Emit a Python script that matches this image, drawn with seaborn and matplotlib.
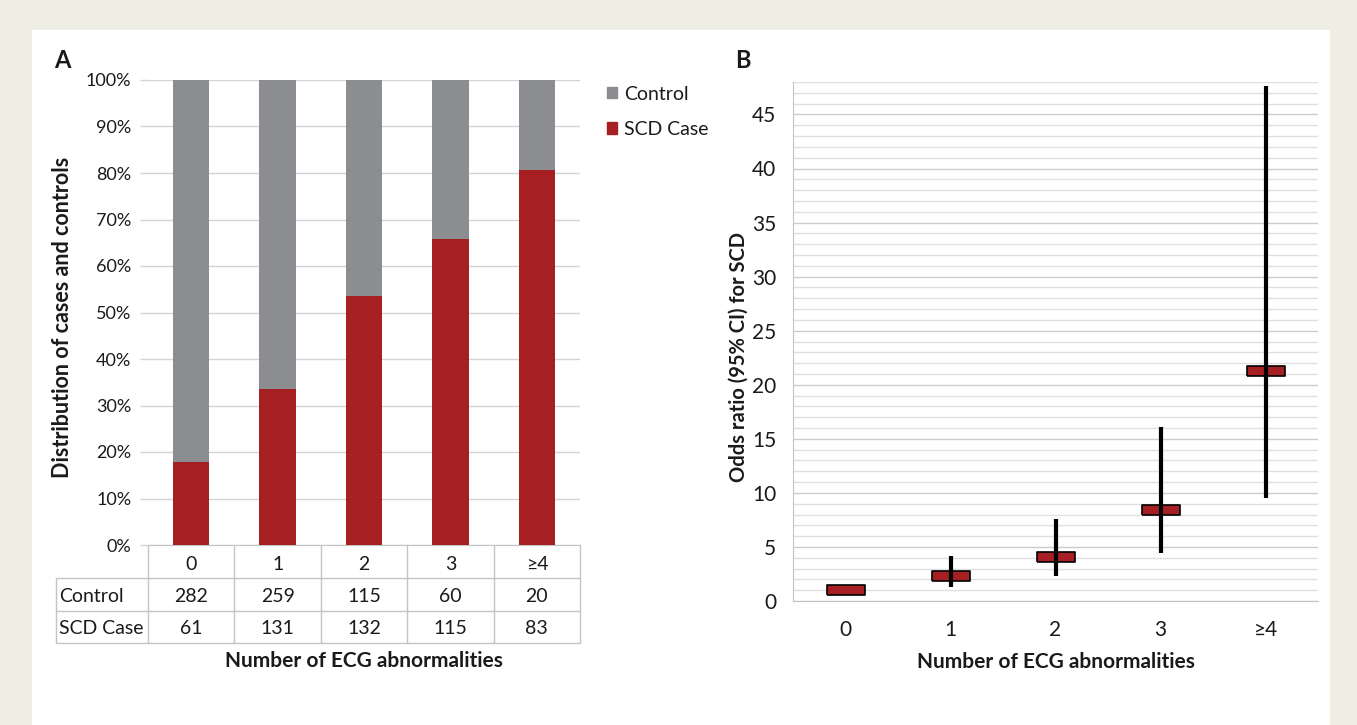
import matplotlib
matplotlib.use("Agg")
import matplotlib.pyplot as plt
import matplotlib.patches as mpatches
import matplotlib.transforms as mtransforms
import seaborn as sns
import pandas as pd
import numpy as np

# data
categories = ["0", "1", "2", "3", "\u22654"]
control_n = [282, 259, 115, 60, 20]
scd_n = [61, 131, 132, 115, 83]

odds_ratio = [1.0, 2.3, 4.1, 8.4, 21.3]
ci_low = [1.0, 1.3, 2.3, 4.4, 9.5]
ci_high = [1.0, 4.2, 7.6, 16.1, 47.6]

GRAY = "#8b8d91"
RED = "#a51f23"
BG = "#efeee5"
GRID = "#d4d4d4"
LINE = "#c4c4c4"

sns.set_style("white")
plt.rcParams["font.family"] = ["Lato", "DejaVu Sans"]
plt.rcParams["text.color"] = "#1a1a1a"
plt.rcParams["xtick.color"] = "#1a1a1a"
plt.rcParams["ytick.color"] = "#1a1a1a"

W, H = 1357, 725
fig = plt.figure(figsize=(W / 100, H / 100), dpi=100)
fig.patch.set_facecolor(BG)
# white panel
fig.add_artist(mpatches.Rectangle((32 / W, 0), (1330 - 32) / W, 1 - 30 / H,
                                  transform=fig.transFigure, facecolor="white",
                                  edgecolor="none", zorder=0))

df = pd.DataFrame({"cat": categories, "control": control_n, "scd": scd_n})
df["total"] = df["control"] + df["scd"]
df["scd_pct"] = df["scd"] / df["total"] * 100
df["all_pct"] = 100.0

# ---------------- panel A ----------------
axA = fig.add_axes([148 / W, 1 - 545 / H, 432 / W, 465 / H])
axA.set_facecolor("none")
sns.barplot(data=df, x="cat", y="all_pct", color=GRAY, width=0.42, ax=axA,
            saturation=1, linewidth=0, zorder=3)
sns.barplot(data=df, x="cat", y="scd_pct", color=RED, width=0.42, ax=axA,
            saturation=1, linewidth=0, zorder=3)
axA.set_ylim(0, 100)
axA.set_xlim(-0.5, len(categories) - 0.5)
axA.set_yticks(np.arange(0, 101, 10))
axA.set_yticklabels([f"{v}%" for v in range(0, 101, 10)], fontsize=13)
axA.yaxis.grid(True, color=GRID, lw=1, zorder=0)
axA.set_axisbelow(True)
axA.tick_params(axis="y", length=6, color=GRID, width=1, pad=6, left=True)
axA.set_xticks([])
axA.set_xlabel("")
axA.set_ylabel("")
for s in ["top", "right", "left"]:
    axA.spines[s].set_visible(False)
axA.spines["bottom"].set_color(LINE)
fig.text(63 / W, 1 - 317 / H, "Distribution of cases and controls", rotation=90,
         fontsize=15.5, fontweight="bold", ha="center", va="center")

# table under panel A
trans = mtransforms.blended_transform_factory(axA.transData, axA.transAxes)
x_left = (56 - 148) / 432
y_rows = [-33 / 465, -66 / 465, -98 / 465]
kw = dict(color=LINE, lw=1, clip_on=False)
for y in y_rows:
    axA.plot([x_left, 1], [y, y], transform=axA.transAxes, **kw)
axA.plot([x_left, x_left], [y_rows[0], y_rows[2]], transform=axA.transAxes, **kw)
for i in range(len(categories) + 1):
    axA.plot([i - 0.5, i - 0.5], [0, y_rows[2]], transform=trans, **kw)
for i, c in enumerate(categories):
    axA.text(i, -19 / 465, c, transform=trans, ha="center", va="center", fontsize=14)
    axA.text(i, -51 / 465, str(control_n[i]), transform=trans, ha="center",
             va="center", fontsize=14)
    axA.text(i, -83 / 465, str(scd_n[i]), transform=trans, ha="center",
             va="center", fontsize=14)
axA.text((59 - 148) / 432, -51 / 465, "Control", transform=axA.transAxes,
         ha="left", va="center", fontsize=14)
axA.text((59 - 148) / 432, -83 / 465, "SCD Case", transform=axA.transAxes,
         ha="left", va="center", fontsize=14)
axA.text(0.5, -116 / 465, "Number of ECG abnormalities", transform=axA.transAxes,
         ha="center", va="center", fontsize=15, fontweight="bold")

handles = [mpatches.Patch(color=GRAY, label="Control"),
           mpatches.Patch(color=RED, label="SCD Case")]
fig.legend(handles=handles, loc="upper left", bbox_to_anchor=(589 / W, 1 - 68 / H),
           frameon=False, fontsize=14, handlelength=0.55, handleheight=0.55,
           handletextpad=0.35, labelspacing=0.95)

fig.text(54 / W, 1 - 60 / H, "A", fontsize=17, fontweight="bold",
         ha="left", va="center")

# ---------------- panel B ----------------
axB = fig.add_axes([793 / W, 1 - 601 / H, 525 / W, 519 / H])
axB.set_facecolor("none")
xpos = np.arange(len(categories))
axB.vlines(xpos, ci_low, ci_high, color="black", lw=3, zorder=4)
box = [(-2, -0.5), (2, -0.5), (2, 0.5), (-2, 0.5), (-2, -0.5)]
sns.scatterplot(x=xpos, y=odds_ratio, marker=box, s=27 ** 2, color=RED,
                edgecolor="black", linewidth=1.2, ax=axB, zorder=3)
axB.set_xlim(-0.5, len(categories) - 0.5)
axB.set_ylim(0, 48)
axB.set_xticks(xpos)
axB.set_xticklabels(categories, fontsize=15)
axB.set_yticks(np.arange(0, 46, 5))
axB.set_yticklabels([str(v) for v in range(0, 46, 5)], fontsize=15)
axB.set_yticks(np.arange(0, 49, 1), minor=True)
axB.yaxis.grid(True, which="minor", color="#e0e0e0", lw=1, zorder=0)
axB.yaxis.grid(True, which="major", color="#cccccc", lw=1, zorder=0)
axB.set_axisbelow(True)
axB.tick_params(axis="y", which="major", length=4, color=LINE, pad=8)
axB.tick_params(axis="y", which="minor", length=0)
axB.tick_params(axis="x", length=0, pad=14)
for s in ["top", "right"]:
    axB.spines[s].set_visible(False)
axB.spines["left"].set_color(LINE)
axB.spines["bottom"].set_color(LINE)
axB.set_xlabel("")
axB.set_ylabel("")
axB.text(0.5, -(662 - 601) / 519, "Number of ECG abnormalities", transform=axB.transAxes,
         ha="center", va="center", fontsize=15, fontweight="bold")
fig.text(739 / W, 1 - 357 / H, "Odds ratio (95% CI) for SCD", rotation=90,
         fontsize=14.5, fontweight="bold", ha="center", va="center")

fig.text(735 / W, 1 - 60 / H, "B", fontsize=17, fontweight="bold",
         ha="left", va="center")

fig.savefig("out.png", dpi=100, facecolor=BG)
